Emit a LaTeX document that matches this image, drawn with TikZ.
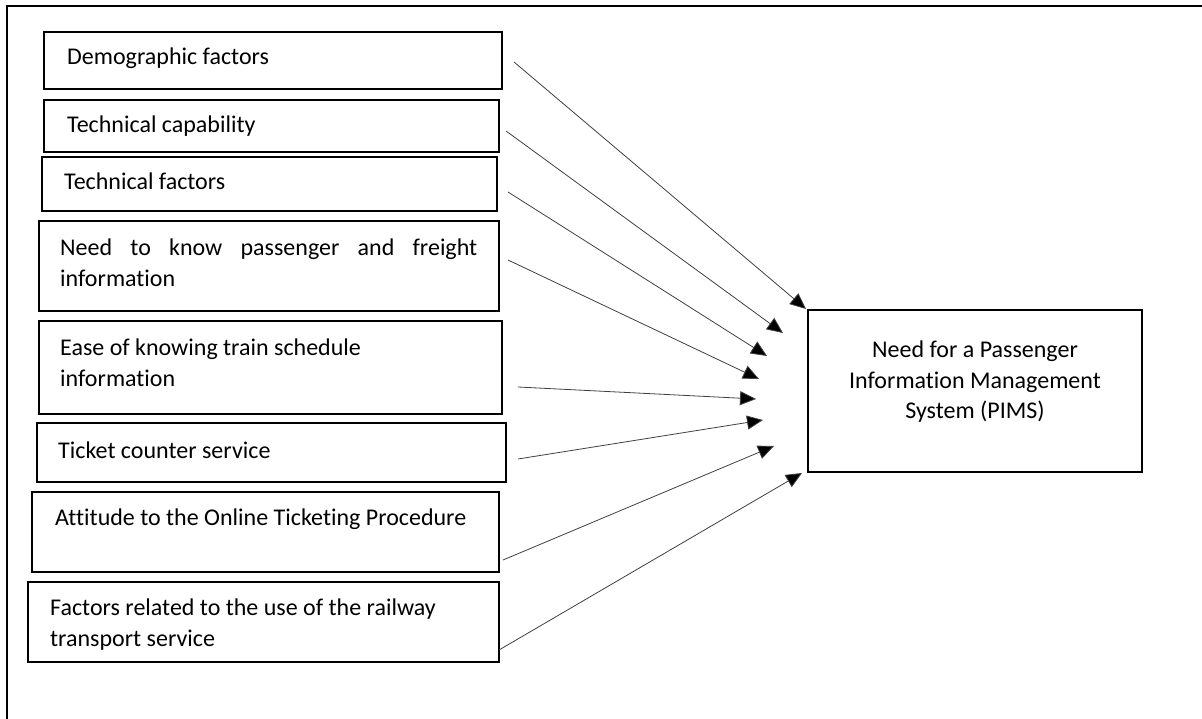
\documentclass[tikz,border=0pt]{standalone}
\usepackage{fontspec}
\setmainfont{Carlito}[Ligatures=NoCommon]
\usetikzlibrary{arrows.meta}

\begin{document}
\begin{tikzpicture}[x=1pt, y=-1pt,
  box/.style={draw, line width=2.2pt, inner sep=0pt},
  txt/.style={anchor=base west, inner sep=0pt, align=left, font=\fontsize{24}{31}\selectfont},
  link/.style={draw=black!75, line width=0.8pt, -{Triangle[length=16pt, width=14pt, fill=black]}}]

\useasboundingbox (0,0) rectangle (1202,719);

\draw [line width=2pt] (7,719) -- (7,6) -- (1202,6);

\node [box, minimum width=458, minimum height=57] (demo) at (273,60.5) {};
\node [box, minimum width=455, minimum height=52] (capab) at (271.5,126) {};
\node [box, minimum width=455, minimum height=54] (techn) at (269.5,184) {};
\node [box, minimum width=460, minimum height=90] (freight) at (269,266) {};
\node [box, minimum width=463, minimum height=93] (sched) at (270.5,367.5) {};
\node [box, minimum width=469, minimum height=59] (ticket) at (271.5,452.5) {};
\node [box, minimum width=467, minimum height=80] (online) at (265.5,532) {};
\node [box, minimum width=471, minimum height=80] (railway) at (263.5,622) {};
\node [box, minimum width=334, minimum height=162] (pims) at (975,391) {};

\node [txt] (demotext) at (67,65) {Demographic factors};
\node [txt] (capabtext) at (67,133) {Technical capability};
\node [txt] (techntext) at (64,190) {Technical factors};
\node [txt] (freighttext) at (60,287)
  {\makebox[417pt][s]{Need to know passenger and freight}\\information};
\node [txt] (schedtext) at (60,386) {Ease of knowing train schedule\\information};
\node [txt] (tickettext) at (58,458) {Ticket counter service};
\node [txt] (onlinetext) at (55,525) {Attitude to the Online Ticketing Procedure};
\node [txt] (railwaytext) at (50,646) {Factors related to the use of the railway\\transport service};
\node [txt, anchor=center, align=center, font=\fontsize{24}{30.5}\selectfont] (pimstext) at (975,382)
  {Need for a Passenger\\Information Management\\System (PIMS)};

\coordinate (s1) at (514,62);
\coordinate (s2) at (506,131);
\coordinate (s3) at (508,192);
\coordinate (s4) at (508,260);
\coordinate (s5) at (518,387);
\coordinate (s6) at (518,459);
\coordinate (s7) at (503,560);
\coordinate (s8) at (499,650);

\coordinate (e1) at (806,309);
\coordinate (e2) at (783,333);
\coordinate (e3) at (767,356);
\coordinate (e4) at (759,379);
\coordinate (e5) at (756,399);
\coordinate (e6) at (763,420);
\coordinate (e7) at (774,446);
\coordinate (e8) at (802,473);

\draw [link] (s1) -- (e1);
\draw [link] (s2) -- (e2);
\draw [link] (s3) -- (e3);
\draw [link] (s4) -- (e4);
\draw [link] (s5) -- (e5);
\draw [link] (s6) -- (e6);
\draw [link] (s7) -- (e7);
\draw [link] (s8) -- (e8);

\end{tikzpicture}
\end{document}
